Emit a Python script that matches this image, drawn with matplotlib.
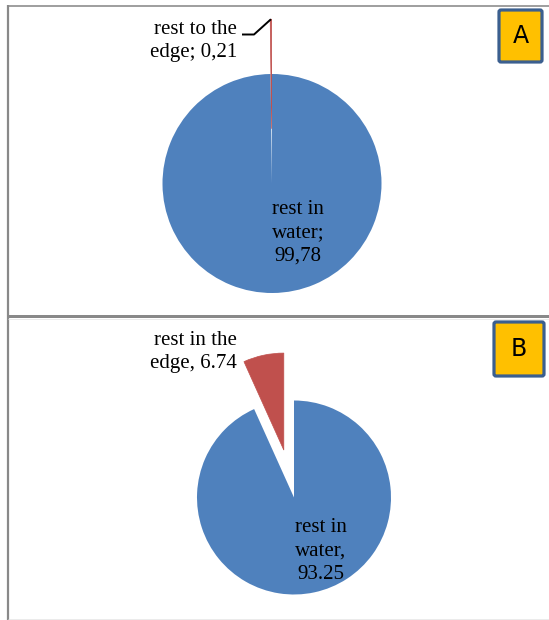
import matplotlib
matplotlib.use("Agg")
import numpy as np
import matplotlib.pyplot as plt
from matplotlib.patches import FancyBboxPatch
from matplotlib.lines import Line2D

# share of the rest: (water, edge) for each case
labels_a = ["rest in water", "rest to the edge"]
values_a = [99.78, 0.21]
labels_b = ["rest in water", "rest in the edge"]
values_b = [93.25, 6.74]
panel_tags = ["A", "B"]

BLUE = "#4F81BD"
RED = "#C0504D"
GRAY = "#898989"

W, H = 549, 620
fig = plt.figure(figsize=(W / 100, H / 100), dpi=100)
ax = fig.add_axes([0, 0, 1, 1])

serif = dict(family="Liberation Serif", fontsize=15, color="black",
             linespacing=1.3)


def Y(y):
    # pixel row (from top) -> axes y
    return H - y


def draw_pie(values, center, radius):
    # explode is in data units, so pull the edge slice out by half a radius
    wedges, _ = ax.pie(values, colors=[BLUE, RED], startangle=90,
                       counterclock=False, explode=[0, 0.5 * radius],
                       center=(center[0], Y(center[1])), radius=radius,
                       wedgeprops=dict(linewidth=0))
    # thin outline keeps a very narrow edge slice visible
    wedges[1].set_edgecolor(RED)
    wedges[1].set_linewidth(0.5)
    return wedges


def tip_of(wedge):
    # outer midpoint of an (exploded) wedge
    mid = np.deg2rad((wedge.theta1 + wedge.theta2) / 2)
    cx, cy = wedge.center
    return cx + wedge.r * np.cos(mid), cy + wedge.r * np.sin(mid)


def fmt(v, dec):
    return f"{v:.2f}".replace(".", dec)


# panel A
wa = draw_pie(values_a, (272, 183.5), 109.5)
# panel B
wb = draw_pie(values_b, (294, 497.5), 97)

# pie() resets the limits, so fix the pixel frame afterwards
ax.set_xlim(0, W)
ax.set_ylim(0, H)
ax.set_aspect("equal")
ax.axis("off")

ax.text(298, Y(233), "rest in\nwater;\n" + fmt(values_a[0], ","),
        ha="center", va="center", **serif)
ax.text(237, Y(41), "rest to the\nedge; " + fmt(values_a[1], ","),
        ha="right", va="center", **serif)
tx, ty = tip_of(wa[1])
ax.plot([242, 254, tx], [Y(34.5), Y(34.5), ty], color="black", lw=1.4,
        solid_capstyle="butt")

ax.text(321, Y(551), "rest in\nwater,\n" + fmt(values_b[0], "."),
        ha="center", va="center", **serif)
ax.text(237, Y(352), "rest in the\nedge, " + fmt(values_b[1], "."),
        ha="right", va="center", **serif)

# corner tags
for tag, (x0, y0, x1, y1) in zip(panel_tags, [(499, 10, 542, 62),
                                               (494, 322, 544, 376)]):
    box = FancyBboxPatch((x0, Y(y1)), x1 - x0, y1 - y0,
                         boxstyle="round,pad=0,rounding_size=2",
                         facecolor="#FFC000", edgecolor="#3B5F8F", lw=2.3)
    ax.add_patch(box)
    ax.text((x0 + x1) / 2, Y((y0 + y1) / 2), tag, ha="center", va="center",
            family="DejaVu Sans", fontsize=17, color="black")

# panel frames
frame = [
    ((7.5, W), (5.5, 5.5), 1.6, GRAY),
    ((8, 8), (5, H), 2.2, GRAY),
    ((8, W), (315.5, 315.5), 3.0, GRAY),
    ((8, W), (318.5, 318.5), 0.8, "#E6E6E6"),
    ((8, W), (619, 619), 0.8, "#E6E6E6"),
]
for xs, ys, lw, c in frame:
    fig.add_artist(Line2D([x / W for x in xs], [1 - y / H for y in ys],
                          lw=lw * 0.72, color=c, solid_capstyle="butt"))

fig.savefig("out.png", dpi=100)
